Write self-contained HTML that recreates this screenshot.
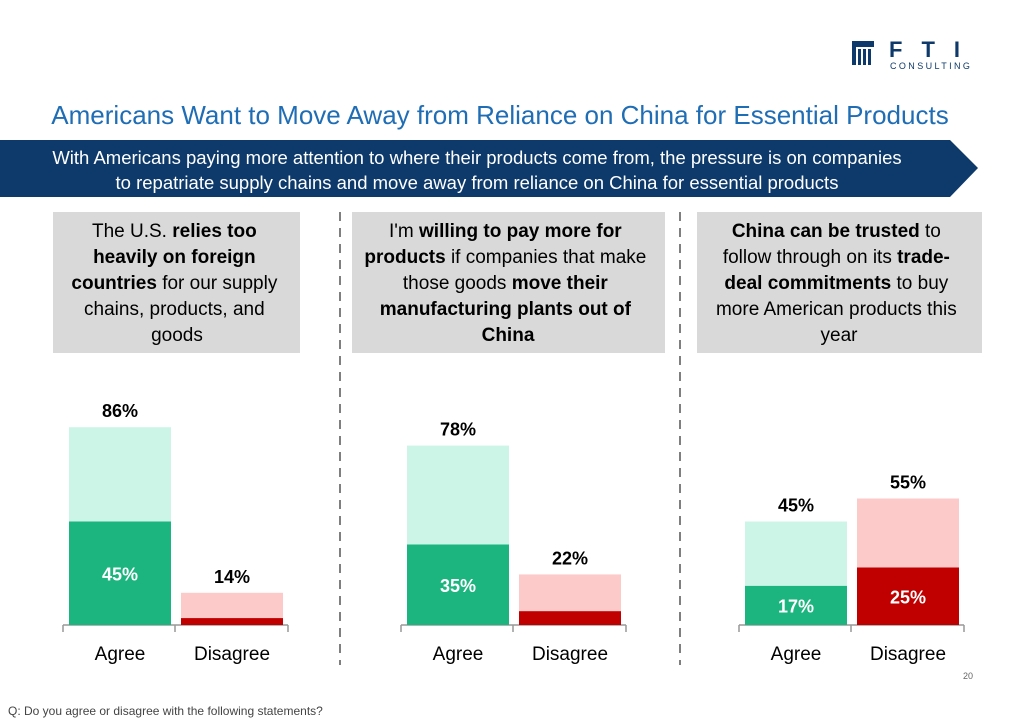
<!DOCTYPE html>
<html><head><meta charset="utf-8"><style>
body{margin:0;width:1024px;height:725px;background:#fff;overflow:hidden;font-family:"Liberation Sans",sans-serif;}
svg{display:block}
</style></head><body>
<svg id="chart" width="1024" height="725" viewBox="0 0 1024 725">
<g>
<rect x="852" y="41" width="22" height="6" fill="#0d3a6b"/>
<rect x="852" y="47" width="4" height="18" fill="#0d3a6b"/>
<rect x="858" y="49" width="3" height="16" fill="#0d3a6b"/>
<rect x="863" y="49" width="3" height="16" fill="#0d3a6b"/>
<rect x="868" y="49" width="3" height="16" fill="#0d3a6b"/>
<text x="889" y="57" font-size="22" font-weight="bold" fill="#0d3a6b" letter-spacing="19">FTI</text>
<text x="890" y="69" font-size="9" fill="#0d3a6b" letter-spacing="2.4">CONSULTING</text>
</g>
<text x="500" y="124" text-anchor="middle" font-size="26" fill="#1f6db5">Americans Want to Move Away from Reliance on China for Essential Products</text>
<polygon points="0,140 950,140 978,168 950,197 0,197" fill="#0d3a6b"/>
<text x="477" y="164" text-anchor="middle" font-size="18.5" fill="#fff">With Americans paying more attention to where their products come from, the pressure is on companies</text>
<text x="477" y="189" text-anchor="middle" font-size="18.5" fill="#fff">to repatriate supply chains and move away from reliance on China for essential products</text>

<g>
<rect x="53" y="212" width="247" height="141" fill="#d9d9d9"/>
<text text-anchor="middle" font-size="19" fill="#000">
<tspan x="177" y="237">The U.S. <tspan font-weight="bold">relies too</tspan></tspan>
<tspan x="177" y="263" font-weight="bold">heavily on foreign</tspan>
<tspan x="177" y="289"><tspan font-weight="bold">countries</tspan> for our supply</tspan>
<tspan x="177" y="315">chains, products, and</tspan>
<tspan x="177" y="341">goods</tspan></text>
</g>
<g>
<rect x="352" y="212" width="313" height="141" fill="#d9d9d9"/>
<text text-anchor="middle" font-size="19" fill="#000">
<tspan x="508" y="237">I'm <tspan font-weight="bold">willing to pay more for</tspan></tspan>
<tspan x="508" y="263"><tspan font-weight="bold">products</tspan> if companies that make</tspan>
<tspan x="508" y="289">those goods <tspan font-weight="bold">move their</tspan></tspan>
<tspan x="508" y="315" font-weight="bold">manufacturing plants out of</tspan>
<tspan x="508" y="341" font-weight="bold">China</tspan></text>
</g>
<g>
<rect x="697" y="212" width="285" height="141" fill="#d9d9d9"/>
<text text-anchor="middle" font-size="19" fill="#000">
<tspan x="839" y="237"><tspan font-weight="bold">China can be trusted</tspan> to</tspan>
<tspan x="839" y="263">follow through on its <tspan font-weight="bold">trade-</tspan></tspan>
<tspan x="839" y="289"><tspan font-weight="bold">deal commitments</tspan> to buy</tspan>
<tspan x="839" y="315">more American products this</tspan>
<tspan x="839" y="341">year</tspan></text>
</g>
<line x1="340" y1="212" x2="340" y2="665" stroke="#7f7f7f" stroke-width="2" stroke-dasharray="9,7"/>
<line x1="680" y1="212" x2="680" y2="665" stroke="#7f7f7f" stroke-width="2" stroke-dasharray="9,7"/>
<g id="bars"></g>
<text x="973" y="679" text-anchor="end" font-size="9" fill="#666">20</text>
<text x="8" y="715" font-size="12" fill="#444">Q: Do you agree or disagree with the following statements?</text>
</svg>
<script>
const categories = ["Agree", "Disagree"];
const agreeTotal = [86, 78, 45];
const agreeStrong = [45, 35, 17];
const disagreeTotal = [14, 22, 55];
const disagreeStrong = [3, 6, 25];
const showStrongLabel = [[true,false],[true,false],[true,true]];

const NS = "http://www.w3.org/2000/svg";
const g = document.getElementById("bars");
const baseY = 625, pxPer = 2.3;
const panelX = [63, 401, 739];
const y = v => baseY - v * pxPer;
function mk(tag, attrs){const e=document.createElementNS(NS,tag);for(const k in attrs)e.setAttribute(k,attrs[k]);g.appendChild(e);return e;}
for (let p = 0; p < 3; p++) {
  const x0 = panelX[p];
  const ax = mk("path",{d:`M${x0} ${baseY}H${x0+225}M${x0} ${baseY}v7M${x0+112} ${baseY}v7M${x0+225} ${baseY}v7`,stroke:"#999","stroke-width":1.5,fill:"none"});
  
  
  const sets = [
    {tot: agreeTotal[p], str: agreeStrong[p], light: "#ccf5e8", dark: "#1db57f"},
    {tot: disagreeTotal[p], str: disagreeStrong[p], light: "#fdcaca", dark: "#c00000"}
  ];
  sets.forEach((s, i) => {
    const bx = x0 + 6 + i * 112, bw = 102;
    const r1 = mk("rect",{x:bx,y:y(s.tot),width:bw,height:s.tot*pxPer,fill:s.light});
    
    
    const r2 = mk("rect",{x:bx,y:y(s.str),width:bw,height:s.str*pxPer,fill:s.dark});
    
    
    const t = mk("text",{x:bx+bw/2,y:y(s.tot)-10,"text-anchor":"middle","font-size":18,"font-weight":"bold",fill:"#000"});
    t.textContent = s.tot + "%";
    
    
    if (showStrongLabel[p][i]) {
      const ty = s.str*pxPer > 30 ? y(s.str/2)+7 : y(s.str)+27;
      const st = mk("text",{x:bx+bw/2,y:ty,"text-anchor":"middle","font-size":18,"font-weight":"bold",fill:"#fff"});
      st.textContent = s.str + "%";
      
      
    }
    const c = mk("text",{x:bx+bw/2,y:660,"text-anchor":"middle","font-size":19,fill:"#000"});
    c.textContent = categories[i];
    
    
  });
}
</script>
</body></html>
